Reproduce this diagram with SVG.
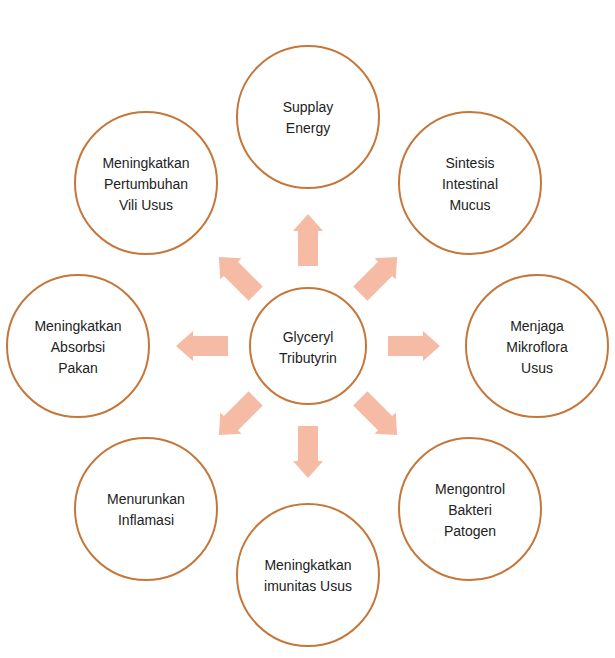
<svg xmlns="http://www.w3.org/2000/svg" width="615" height="658" viewBox="0 0 615 658">
<defs>
<style>
.n{fill:#fff;stroke:#C5773A;stroke-width:2}
.t{font-family:"Liberation Sans",Arial,sans-serif;font-size:14px;fill:#222;text-anchor:middle}
.a{fill:#F5BBA5}
</style>
<path id="ar" d="M80,-10 H115 V-15 L132,0 L115,15 V10 H80 Z"/>
</defs>
<rect width="615" height="658" fill="#fff"/>
<g id="connectors" class="a">
<use href="#ar" transform="translate(308,346) rotate(0)"/>
<use href="#ar" transform="translate(308,346) rotate(-45) translate(-6,0)"/>
<use href="#ar" transform="translate(308,346) rotate(-90)"/>
<use href="#ar" transform="translate(308,346) rotate(-135) translate(-6,0)"/>
<use href="#ar" transform="translate(308,346) rotate(180)"/>
<use href="#ar" transform="translate(308,346) rotate(135) translate(-6,0)"/>
<use href="#ar" transform="translate(308,346) rotate(90)"/>
<use href="#ar" transform="translate(308,346) rotate(45) translate(-6,0)"/>
</g>
<g id="center"><circle class="n" cx="308" cy="346" r="58"/><text class="t" x="308" y="342">Glyceryl</text><text class="t" x="308" y="363">Tributyrin</text></g>
<g id="n1"><circle class="n" cx="308" cy="117" r="71"/><text class="t" x="308" y="112">Supplay</text><text class="t" x="308" y="133">Energy</text></g>
<g id="n2"><circle class="n" cx="470" cy="183" r="71"/><text class="t" x="470" y="168">Sintesis</text><text class="t" x="470" y="189">Intestinal</text><text class="t" x="470" y="210">Mucus</text></g>
<g id="n3"><circle class="n" cx="537" cy="346" r="71"/><text class="t" x="537" y="331">Menjaga</text><text class="t" x="537" y="352">Mikroflora</text><text class="t" x="537" y="373">Usus</text></g>
<g id="n4"><circle class="n" cx="470" cy="509" r="71"/><text class="t" x="470" y="494">Mengontrol</text><text class="t" x="470" y="515">Bakteri</text><text class="t" x="470" y="536">Patogen</text></g>
<g id="n5"><circle class="n" cx="308" cy="575" r="71"/><text class="t" x="308" y="570">Meningkatkan</text><text class="t" x="308" y="591">imunitas Usus</text></g>
<g id="n6"><circle class="n" cx="146" cy="509" r="71"/><text class="t" x="146" y="504">Menurunkan</text><text class="t" x="146" y="525">Inflamasi</text></g>
<g id="n7"><circle class="n" cx="78" cy="346" r="71"/><text class="t" x="78" y="331">Meningkatkan</text><text class="t" x="78" y="352">Absorbsi</text><text class="t" x="78" y="373">Pakan</text></g>
<g id="n8"><circle class="n" cx="146" cy="183" r="71"/><text class="t" x="146" y="168">Meningkatkan</text><text class="t" x="146" y="189">Pertumbuhan</text><text class="t" x="146" y="210">Vili Usus</text></g>
</svg>
